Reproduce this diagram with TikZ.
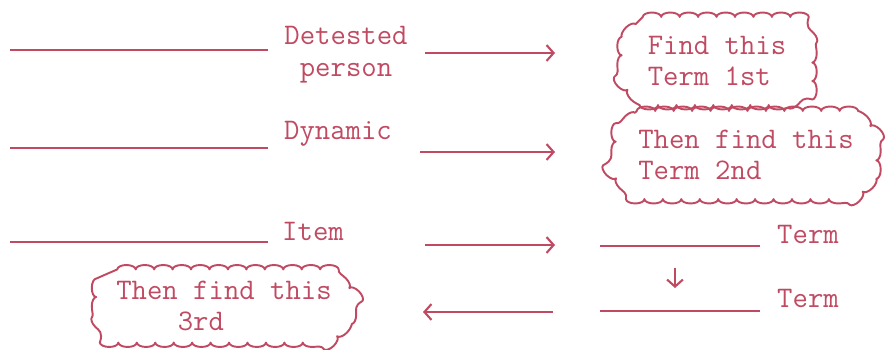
\documentclass[tikz,border=0pt]{standalone}
\usetikzlibrary{arrows.meta,decorations.pathmorphing}
\definecolor{ink}{RGB}{192,74,98}
\tikzset{
	blank/.style={line width=1.6pt, color=ink},
	arr/.style={blank, -{Straight Barb[length=4pt,width=9pt,line width=1.2pt]}},
	word/.style={text=ink, font=\ttfamily\fontsize{17}{18}\selectfont, inner sep=0pt, align=left},
	cloudline/.style={draw=ink, line width=1.1pt, line join=round,
		decorate, decoration={bumps, segment length=21pt, amplitude=2.5pt}}
}
% scalloped outline round a named node: \cloudround{name}
\def\cloudround#1{\draw[cloudline] ([xshift=12pt]#1.north west) -- ([xshift=-12pt]#1.north east)
	-- ([yshift=-12pt]#1.north east) -- ([yshift=12pt]#1.south east) -- ([xshift=-12pt]#1.south east)
	-- ([xshift=12pt]#1.south west) -- ([yshift=12pt]#1.south west) -- ([yshift=-12pt]#1.north west) -- cycle;}

\begin{document}
\begin{tikzpicture}[x=0.02cm, y=-0.02cm]
		%%%%% START %%%%%
		\useasboundingbox (0,0) rectangle (886,350);
		
		% blanks on the left
		\draw[blank] (10,50) -- (268,50);
		\draw[blank] (10,148) -- (268,148);
		\draw[blank] (10,242) -- (268,242);
		
		\node[word, align=center] (det) at (346,55) {Detested\\person};
		\node[word] (dyn) at (338,134) {Dynamic};
		\node[word] (item) at (313,231) {Item};
		
		% clouds
		\node[word, minimum width=3.8cm, minimum height=1.75cm] (find1) at (717,61) {Find this\\Term 1st};
		\node[word, minimum width=5.2cm, minimum height=1.75cm] (find2) at (746,155) {Then find this\\Term 2nd};
		\node[word, minimum width=5.1cm, minimum height=1.45cm] (find3) at (224,306) {Then find this\\\phantom{Then}3rd};
		\cloudround{find1}
		\cloudround{find2}
		\cloudround{find3}
		
		% blanks on the right
		\node[word] (term1) at (808,234) {Term};
		\node[word] (term2) at (808,298) {Term};
		\coordinate (t1w) at (600,246);
		\coordinate (t1e) at (760,246);
		\coordinate (t2w) at (600,311);
		\coordinate (t2e) at (760,311);
		\draw[blank] (t1w) -- (t1e);
		\draw[blank] (t2w) -- (t2e);
		
		% arrows
		\coordinate (a1) at (425,53);
		\coordinate (b1) at (555,53);
		\coordinate (a2) at (420,152);
		\coordinate (b2) at (555,152);
		\coordinate (a3) at (425,245);
		\coordinate (b3) at (555,245);
		\coordinate (a4) at (553,312);
		\coordinate (b4) at (423,312);
		\draw[arr] (a1) -- (b1);
		\draw[arr] (a2) -- (b2);
		\draw[arr] (a3) -- (b3);
		\draw[arr] (a4) -- (b4);
		
		\coordinate (d1) at (675,268);
		\coordinate (d2) at (675,288);
		\draw[arr, line width=1pt] (d1) -- (d2);
		%%%%% END %%%%%
\end{tikzpicture}
\end{document}
